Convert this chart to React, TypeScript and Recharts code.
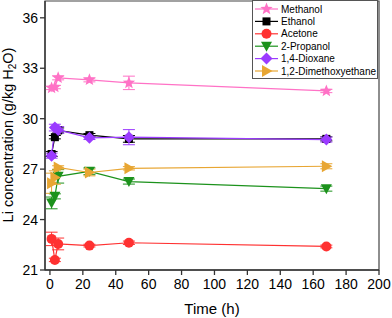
import { LineChart, Line, XAxis, YAxis, ErrorBar, ReferenceArea } from 'recharts';

// sampling times (h)
const hours = [1, 3, 5, 24, 48, 168];

const methanol = [31.83, 31.88, 32.43, 32.31, 32.13, 31.65];
const methanolErr = [0.1, 0.1, 0.12, 0.12, 0.4, 0.1];
const ethanol = [27.9, 28.9, 29.3, 29.02, 28.8, 28.8];
const ethanolErr = [0.15, 0.1, 0.15, 0.1, 0.2, 0.12];
const acetone = [22.85, 21.6, 22.55, 22.45, 22.62, 22.4];
const acetoneErr = [0.4, 0.1, 0.35, 0.08, 0.1, 0.08];
const propanol = [24.99, 25.38, 26.57, 26.87, 26.26, 25.84];
const propanolErr = [0.35, 0.15, 0.4, 0.2, 0.15, 0.15];
const dioxane = [27.8, 29.47, 29.33, 28.86, 28.9, 28.76];
const dioxaneErr = [0.15, 0.2, 0.2, 0.1, 0.45, 0.15];
const dme = [26.16, 26.5, 27.1, 26.8, 27.05, 27.17];
const dmeErr = [0.6, 0.4, 0.1, 0.2, 0.1, 0.15];

const xTicks = [0, 20, 40, 60, 80, 100, 120, 140, 160, 180, 200];
const yTicks = [21, 24, 27, 30, 33, 36];

type Shape = 'star' | 'square' | 'circle' | 'down' | 'diamond' | 'right';

const series: Array<{ name: string; values: number[]; err: number[]; color: string; shape: Shape }> = [
  { name: 'Methanol', values: methanol, err: methanolErr, color: '#FF72C6', shape: 'star' },
  { name: 'Ethanol', values: ethanol, err: ethanolErr, color: '#000000', shape: 'square' },
  { name: 'Acetone', values: acetone, err: acetoneErr, color: '#FF3131', shape: 'circle' },
  { name: '2-Propanol', values: propanol, err: propanolErr, color: '#1C921C', shape: 'down' },
  { name: '1,4-Dioxane', values: dioxane, err: dioxaneErr, color: '#9B3BFF', shape: 'diamond' },
  { name: '1,2-Dimethoxyethane', values: dme, err: dmeErr, color: '#E8A633', shape: 'right' },
];

const FONT = '"Liberation Sans", Arial, sans-serif';

function Marker({ cx, cy, shape, color }: { cx: number; cy: number; shape: Shape; color: string }) {
  if (cx == null || cy == null) return null;
  switch (shape) {
    case 'star': {
      const pts: string[] = [];
      for (let i = 0; i < 10; i++) {
        const r = i % 2 === 0 ? 6.5 : 2.8;
        const a = -Math.PI / 2 + (i * Math.PI) / 5;
        pts.push(`${cx + r * Math.cos(a)},${cy + r * Math.sin(a)}`);
      }
      return <polygon points={pts.join(' ')} fill={color} />;
    }
    case 'square':
      return <rect x={cx - 4} y={cy - 4} width={8} height={8} fill={color} />;
    case 'circle':
      return <circle cx={cx} cy={cy} r={5} fill={color} />;
    case 'down':
      return <polygon points={`${cx - 5.5},${cy - 4.5} ${cx + 5.5},${cy - 4.5} ${cx},${cy + 5.5}`} fill={color} />;
    case 'diamond':
      return <polygon points={`${cx},${cy - 6} ${cx + 6},${cy} ${cx},${cy + 6} ${cx - 6},${cy}`} fill={color} />;
    case 'right':
      return <polygon points={`${cx - 4.5},${cy - 6} ${cx + 6},${cy} ${cx - 4.5},${cy + 6}`} fill={color} />;
  }
  return null;
}

function LegendBox() {
  return (
    <svg
      width={126}
      height={79}
      style={{ position: 'absolute', left: 252, top: 0 }}
    >
      <rect x={0.5} y={0.5} width={125} height={78} fill="#fff" stroke="#555" />
      {series.map((s, i) => {
        const y = 9 + i * 12.4;
        return (
          <g key={s.name}>
            <line x1={3} x2={26} y1={y} y2={y} stroke={s.color} strokeWidth={1.2} />
            <Marker cx={14.5} cy={y} shape={s.shape} color={s.color} />
            <text x={29} y={y + 3.6} fontSize={10} fontFamily={FONT} fill="#000">
              {s.name}
            </text>
          </g>
        );
      })}
    </svg>
  );
}

export default function App() {
  const axisStyle = { stroke: '#333', strokeWidth: 1.3 };
  return (
    <div style={{ position: 'absolute', left: 0, top: 0, width: 392, height: 318, background: '#fff', fontFamily: FONT }}>
      <LineChart width={392} height={318} margin={{ top: 1, right: 13, bottom: 0, left: 0 }}>
        <XAxis
          type="number"
          dataKey="t"
          domain={[-3, 200]}
          ticks={xTicks}
          allowDuplicatedCategory={false}
          height={48}
          tickSize={5}
          tickMargin={4}
          axisLine={axisStyle}
          tickLine={axisStyle}
          tick={{ fontSize: 14, fill: '#000', fontFamily: FONT }}
          label={{
            content: () => (
              <text x={212} y={314} textAnchor="middle" fontSize={15} fontFamily={FONT} fill="#000">
                Time (h)
              </text>
            ),
          }}
        />
        <YAxis
          type="number"
          domain={[21, 37]}
          ticks={yTicks}
          width={45}
          tickSize={5}
          tickMargin={2}
          axisLine={axisStyle}
          tickLine={axisStyle}
          tick={{ fontSize: 14, fill: '#000', fontFamily: FONT }}
          label={{
            content: () => (
              <text transform="translate(13,135) rotate(-90)" textAnchor="middle" fontSize={14.5} fontFamily={FONT} fill="#000">
                Li concentration (g/kg H<tspan fontSize={10} dy={3}>2</tspan>
                <tspan dy={-3}>O)</tspan>
              </text>
            ),
          }}
        />
        <ReferenceArea x1={-3} x2={200} y1={21} y2={37} fill="none" stroke="#444" strokeWidth={1.2} />
        {series.map((s) => (
          <Line
            key={s.name}
            name={s.name}
            data={hours.map((t, i) => ({ t, v: s.values[i], e: s.err[i] }))}
            dataKey="v"
            stroke={s.color}
            strokeWidth={1.2}
            isAnimationActive={false}
            dot={(p: any) => <Marker key={`${s.name}-${p.index}`} cx={p.cx} cy={p.cy} shape={s.shape} color={s.color} />}
            activeDot={false}
          >
            <ErrorBar dataKey="e" width={6} stroke={s.color} strokeWidth={1} direction="y" />
          </Line>
        ))}
      </LineChart>
      <LegendBox />
    </div>
  );
}
